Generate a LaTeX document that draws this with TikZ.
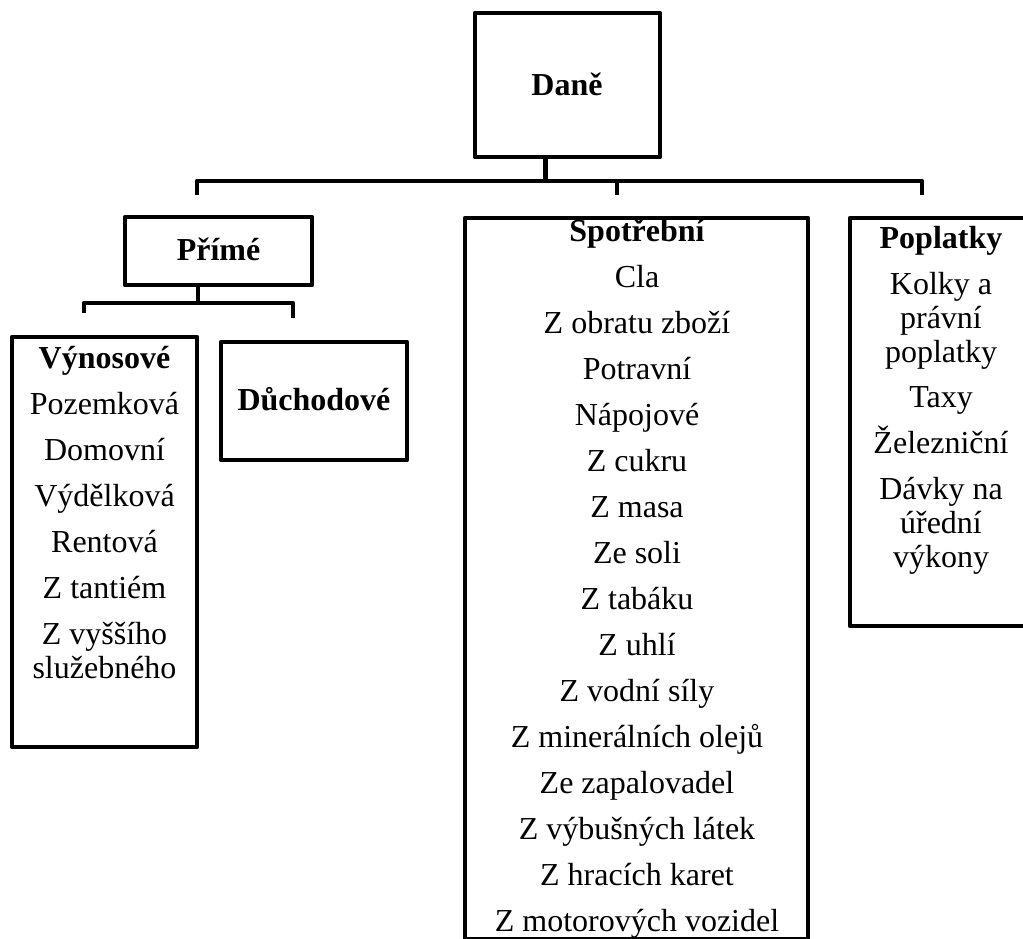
\documentclass[tikz,border=0pt]{standalone}
\usepackage{fontspec}
\setmainfont{Liberation Serif}
\begin{document}
\begin{tikzpicture}[x=1pt,y=-1pt,
  box/.style={draw=black, line width=4.5pt, inner sep=0pt, line join=round},
  txt/.style={anchor=base, inner sep=0pt, font=\fontsize{32}{36}\selectfont},
  hd/.style={anchor=base, inner sep=0pt, font=\fontsize{32}{36}\selectfont\bfseries},
  link/.style={draw=black, line width=4.5pt, line join=round}]
\useasboundingbox (0,0) rectangle (1023,938);
\clip (0,0) rectangle (1023,938);
\fill[white] (0,0) rectangle (1023,938);

% boxes
\node[box, minimum width=185pt, minimum height=144pt] (dane) at (567.5,85) {};
\node[box, minimum width=187pt, minimum height=68pt] (prime) at (218.5,251) {};
\node[box, minimum width=185pt, minimum height=410pt] (vynos) at (104.5,542) {};
\node[box, minimum width=186pt, minimum height=118pt] (duch) at (314,401) {};
\node[box, minimum width=343pt, minimum height=721.5pt] (spotr) at (636.5,578.75) {};
\node[box, minimum width=185pt, minimum height=408pt] (popl) at (942.5,422) {};

% headings
\node[hd] (tdane) at (567,95) {Daně};
\node[hd] (tprime) at (218.5,260) {Přímé};
\node[hd] (tduch) at (314,410) {Důchodové};
\node[hd] (tvynos) at (104.5,368) {Výnosové};
\node[hd] (tspotr) at (637,241) {Spotřební};
\node[hd] (tpopl) at (941,248) {Poplatky};

% Výnosové items
\node[txt] (v1) at (104.5,414) {Pozemková};
\node[txt] (v2) at (104.5,460) {Domovní};
\node[txt] (v3) at (104.5,506) {Výdělková};
\node[txt] (v4) at (104.5,552) {Rentová};
\node[txt] (v5) at (104.5,598) {Z tantiém};
\node[txt] (v6) at (104.5,644) {Z vyššího};
\node[txt] (v7) at (104.5,678) {služebného};

% Spotřební items
\foreach \t [count=\i] in {Cla,Z obratu zboží,Potravní,Nápojové,Z cukru,Z masa,Ze soli,Z tabáku,Z uhlí,Z vodní síly,Z minerálních olejů,Ze zapalovadel,Z výbušných látek,Z hracích karet,Z motorových vozidel}
  \node[txt] (s\i) at (637,{241+46*\i}) {\t};

% Poplatky items
\node[txt] (p1) at (941,294) {Kolky a};
\node[txt] (p2) at (941,328) {právní};
\node[txt] (p3) at (941,362) {poplatky};
\node[txt] (p4) at (941,407) {Taxy};
\node[txt] (p5) at (941,453) {Železniční};
\node[txt] (p6) at (941,499) {Dávky na};
\node[txt] (p7) at (941,533) {úřední};
\node[txt] (p8) at (941,567) {výkony};

% connectors from Daně
\coordinate (busT) at (545.5,181);
\coordinate (dA) at (197,195);
\coordinate (dB) at (617,195);
\coordinate (dC) at (922,195);
\draw[link] (dane.south -| busT) -- (busT);
\draw[link] (dA) -- (dA |- busT) -- (dC |- busT) -- (dC);
\draw[link] (dB |- busT) -- (dB);

% connectors from Přímé
\coordinate (busP) at (198,303);
\coordinate (pA) at (84,313);
\coordinate (pB) at (293,318);
\draw[link] (prime.south -| busP) -- (busP);
\draw[link] (pA) -- (pA |- busP) -- (pB |- busP) -- (pB);
\end{tikzpicture}
\end{document}
